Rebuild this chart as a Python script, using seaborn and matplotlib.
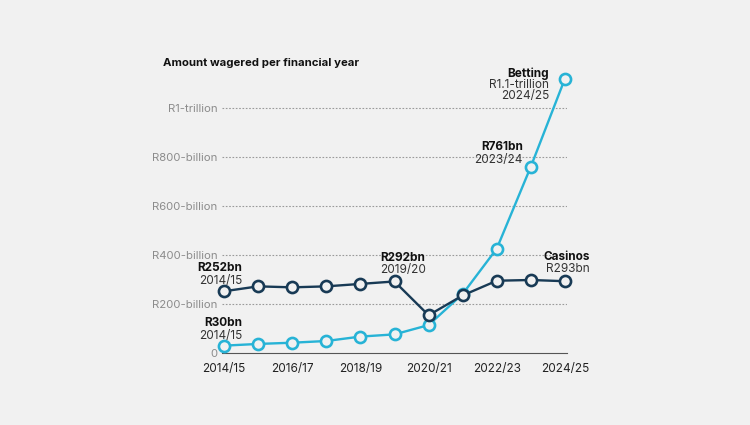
import numpy as np
import pandas as pd
import matplotlib
matplotlib.use("Agg")
import matplotlib.pyplot as plt
import seaborn as sns

# data (R billion per financial year)
years = ["2014/15", "2015/16", "2016/17", "2017/18", "2018/19", "2019/20",
         "2020/21", "2021/22", "2022/23", "2023/24", "2024/25"]
casinos = [252, 272, 268, 272, 282, 292, 154, 235, 295, 298, 293]
betting = [30, 37, 42, 49, 67, 76, 114, 241, 426, 761, 1120]

ytick_vals = [0, 200, 400, 600, 800, 1000]
ytick_labels = ["0", "R200-billion", "R400-billion", "R600-billion", "R800-billion", "R1-trillion"]

bg = "#f1f1f1"
blue = "#27b3d6"
navy = "#183a55"

sns.set_style("white")
plt.rcParams["font.family"] = ["Inter", "DejaVu Sans"]

df = pd.DataFrame({"idx": np.arange(len(years)), "Casinos": casinos, "Betting": betting})

fig = plt.figure(figsize=(7.5, 4.25), dpi=100, facecolor=bg)
ax = fig.add_axes([222 / 750, (425 - 353) / 425, 345 / 750, (353 - 71.25) / 425])
ax.set_facecolor(bg)

mk = dict(marker="o", markersize=8, markerfacecolor=bg, markeredgewidth=1.9, linewidth=1.7)
sns.lineplot(data=df, x="idx", y="Betting", color=blue, markeredgecolor=blue, ax=ax, clip_on=False, zorder=3, **mk)
sns.lineplot(data=df, x="idx", y="Casinos", color=navy, markeredgecolor=navy, ax=ax, clip_on=False, zorder=4, **mk)

ax.set_xlim(-0.06, 10.06)
ax.set_ylim(0, 1150)
ax.set_xlabel("")
ax.set_ylabel("")

ax.set_xticks(range(len(years)))
ax.set_xticklabels([y if i % 2 == 0 else "" for i, y in enumerate(years)], fontsize=8.5, color="#222222")
ax.tick_params(axis="x", length=4, width=0.8, color="#555555", pad=3)
ax.set_yticks(ytick_vals)
ax.set_yticklabels(ytick_labels, fontsize=8.2, color="#8c8c8c")
ax.tick_params(axis="y", length=0, pad=3.5)

for v in ytick_vals[1:]:
    ax.axhline(v, color="#9a9a9a", linestyle=(0, (1.5, 1.5)), linewidth=0.8, zorder=1)

for s in ["top", "right", "left"]:
    ax.spines[s].set_visible(False)
ax.spines["bottom"].set_color("#555555")
ax.spines["bottom"].set_linewidth(0.8)

fig.text(163 / 750, 1 - 63 / 425, "Amount wagered per financial year", fontsize=8.2,
         fontweight="bold", color="#111111", va="center", ha="left")


def label(i, val, lines, dx, dys, ha):
    for (txt, bold), dy in zip(lines, dys):
        ax.annotate(txt, xy=(i, val), xytext=(dx, dy), textcoords="offset pixels",
                    ha=ha, va="center", fontsize=8.5,
                    fontweight="bold" if bold else "normal", color="#111111" if bold else "#333333",
                    annotation_clip=False)


label(0, casinos[0], [("R252bn", True), ("2014/15", False)], 18, [23.5, 10.5], "right")
label(0, betting[0], [("R30bn", True), ("2014/15", False)], 18, [22.5, 9.5], "right")
label(5, casinos[5], [("R292bn", True), ("2019/20", False)], -14, [23.5, 11.5], "left")
label(10, casinos[10], [("Casinos", True), ("R293bn", False)], 25, [24, 12], "right")
label(9, betting[9], [("R761bn", True), ("2023/24", False)], -8, [19.5, 6.5], "right")
label(10, betting[10], [("Betting", True), ("R1.1-trillion", False), ("2024/25", False)],
      -16, [4.5, -6.5, -17.5], "right")

fig.savefig("out.png", dpi=100, facecolor=bg)
